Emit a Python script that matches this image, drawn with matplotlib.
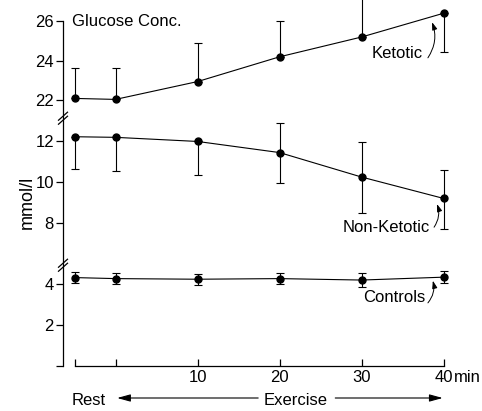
import numpy as np
import matplotlib
matplotlib.use("Agg")
import matplotlib.pyplot as plt
from matplotlib.lines import Line2D

plt.rcParams['font.family'] = ['Liberation Sans', 'DejaVu Sans']

# ---------------- data ----------------
x_vals = [-5, 0, 10, 20, 30, 40]          # -5 = "Rest"
ket_mean = [22.1, 22.05, 22.95, 24.2, 25.2, 26.4]
ket_lo = [0, 0, 0, 0, 0, 1.95]
ket_hi = [1.55, 1.6, 1.95, 1.8, 2.0, 0]
non_mean = [12.2, 12.17, 11.97, 11.43, 10.24, 9.2]
non_lo = [1.58, 1.65, 1.64, 1.48, 1.74, 1.5]
non_hi = [0, 0, 0, 1.43, 1.68, 1.4]
con_mean = [4.3, 4.25, 4.22, 4.25, 4.18, 4.32]
con_err = [0.28, 0.26, 0.27, 0.28, 0.32, 0.3]
y_ticks = [0, 2, 4, 8, 10, 12, 22, 24, 26]
y_ticklabels = ['', '2', '4', '8', '10', '12', '22', '24', '26']
x_ticks = [-5, 0, 10, 20, 30, 40]
x_ticklabels = ['', '', '10', '20', '30', '40']

# ---------------- broken scale ----------------
B1, M0, M1, T0, K = 4.9, 5.95, 13.1, 21.1, 0.963
MID_TOP = B1 + (M1 - M0)

def fwd(v):
    v = np.asarray(v, dtype=float)
    return np.where(v <= B1, v,
           np.where(v <= M0, B1,
           np.where(v <= M1, B1 + (v - M0),
           np.where(v <= T0, MID_TOP, MID_TOP + (v - T0) * K))))

def inv(u):
    u = np.asarray(u, dtype=float)
    return np.where(u <= B1, u,
           np.where(u <= MID_TOP, u - B1 + M0, T0 + (u - MID_TOP) / K))

FS = 12
fig = plt.figure(figsize=(4.82, 4.11), dpi=100)
W, H = 482, 411
ax = fig.add_axes([63 / W, (H - 366) / H, (470 - 63) / W, 366 / H])
ax.set_yscale('function', functions=(fwd, inv))
ax.set_xlim((63 - 115.5) / 8.2, (470 - 115.5) / 8.2)
ax.set_ylim(0, 27.07)

lw = 0.8
ekw = dict(fmt='-o', color='black', ms=5, lw=lw, elinewidth=0.8,
           capsize=3, capthick=0.8, clip_on=True)
ax.errorbar(x_vals, ket_mean, yerr=[ket_lo, ket_hi], **ekw)
ax.errorbar(x_vals, non_mean, yerr=[non_lo, non_hi], **ekw)
ax.errorbar(x_vals, con_mean, yerr=con_err, **ekw)

for s in ['top', 'right']:
    ax.spines[s].set_visible(False)
ax.spines['left'].set_bounds(0, 26)
ax.spines['bottom'].set_bounds(-5, 40)
ax.spines['left'].set_linewidth(0.9)
ax.spines['bottom'].set_linewidth(0.9)

ax.set_yticks(y_ticks)
ax.set_yticklabels(y_ticklabels)
ax.yaxis.set_minor_locator(matplotlib.ticker.NullLocator())
ax.set_xticks(x_ticks)
ax.set_xticklabels(x_ticklabels)
ax.tick_params(axis='y', direction='out', length=5, width=0.9, pad=1.5,
               labelsize=FS)
ax.tick_params(axis='x', direction='in', length=5, width=0.9, pad=3,
               labelsize=FS)

# "min" after 40
ax.text(40 + 1.25, -3 / 366 * (100 / 72), 'min',
        transform=ax.get_xaxis_transform(), ha='left', va='top', fontsize=FS)

# break marks on the y axis
fig.canvas.draw()
for bv in [5.4, 17.0]:
    cx, cy = ax.transData.transform((ax.get_xlim()[0], bv))
    for off in (-2.0, 2.0):
        xs = np.array([cx - 4.5, cx + 4.5]) / W
        ys = (np.array([cy - 4.0, cy + 4.0]) + off) / H
        fig.add_artist(Line2D(xs, ys, color='black', lw=0.9))

# annotations
ax.text((72 - 115.5) / 8.2, 26.0, 'Glucose Conc.', fontsize=FS, ha='left',
        va='center')
aprops = dict(arrowstyle='-|>,head_length=0.45,head_width=0.15',
              color='black', lw=0.7, shrinkA=0, shrinkB=0,
              connectionstyle='arc3,rad=0.25')
labels = [('Ketotic', 37.5, 24.35, (38.1, 24.15), (38.6, 25.95)),
          ('Non-Ketotic', 38.35, 7.8, (38.85, 7.8), (39.2, 8.93)),
          ('Controls', 37.75, 3.32, (38.1, 3.07), (38.7, 4.15))]
for name, tx, ty, start, tip in labels:
    ax.text(tx, ty, name, fontsize=FS, ha='right', va='center')
    ax.annotate('', xy=tip, xytext=start, arrowprops=aprops)

fig.text(27 / W, 1 - 202 / H, 'mmol/l', rotation=90, ha='center', va='center',
         fontsize=13)

# Rest / Exercise
ytxt = (366 - 400) / 366
trb = ax.get_xaxis_transform()
ax.text(-5.3, ytxt, 'Rest', transform=trb, ha='left', va='center', fontsize=FS)
ax.text(21.95, ytxt, 'Exercise', transform=trb, ha='center', va='center',
        fontsize=FS)
harrow = dict(arrowstyle='-|>,head_length=0.8,head_width=0.22', color='black',
              lw=0.8, shrinkA=0, shrinkB=0)
yarr = (366 - 398) / 366
ax.annotate('', xy=(0.2, yarr), xytext=(17.4, yarr), xycoords=trb,
            textcoords=trb, arrowprops=harrow, annotation_clip=False)
ax.annotate('', xy=(39.9, yarr), xytext=(26.8, yarr), xycoords=trb,
            textcoords=trb, arrowprops=harrow, annotation_clip=False)

fig.savefig('out.png', dpi=100)
